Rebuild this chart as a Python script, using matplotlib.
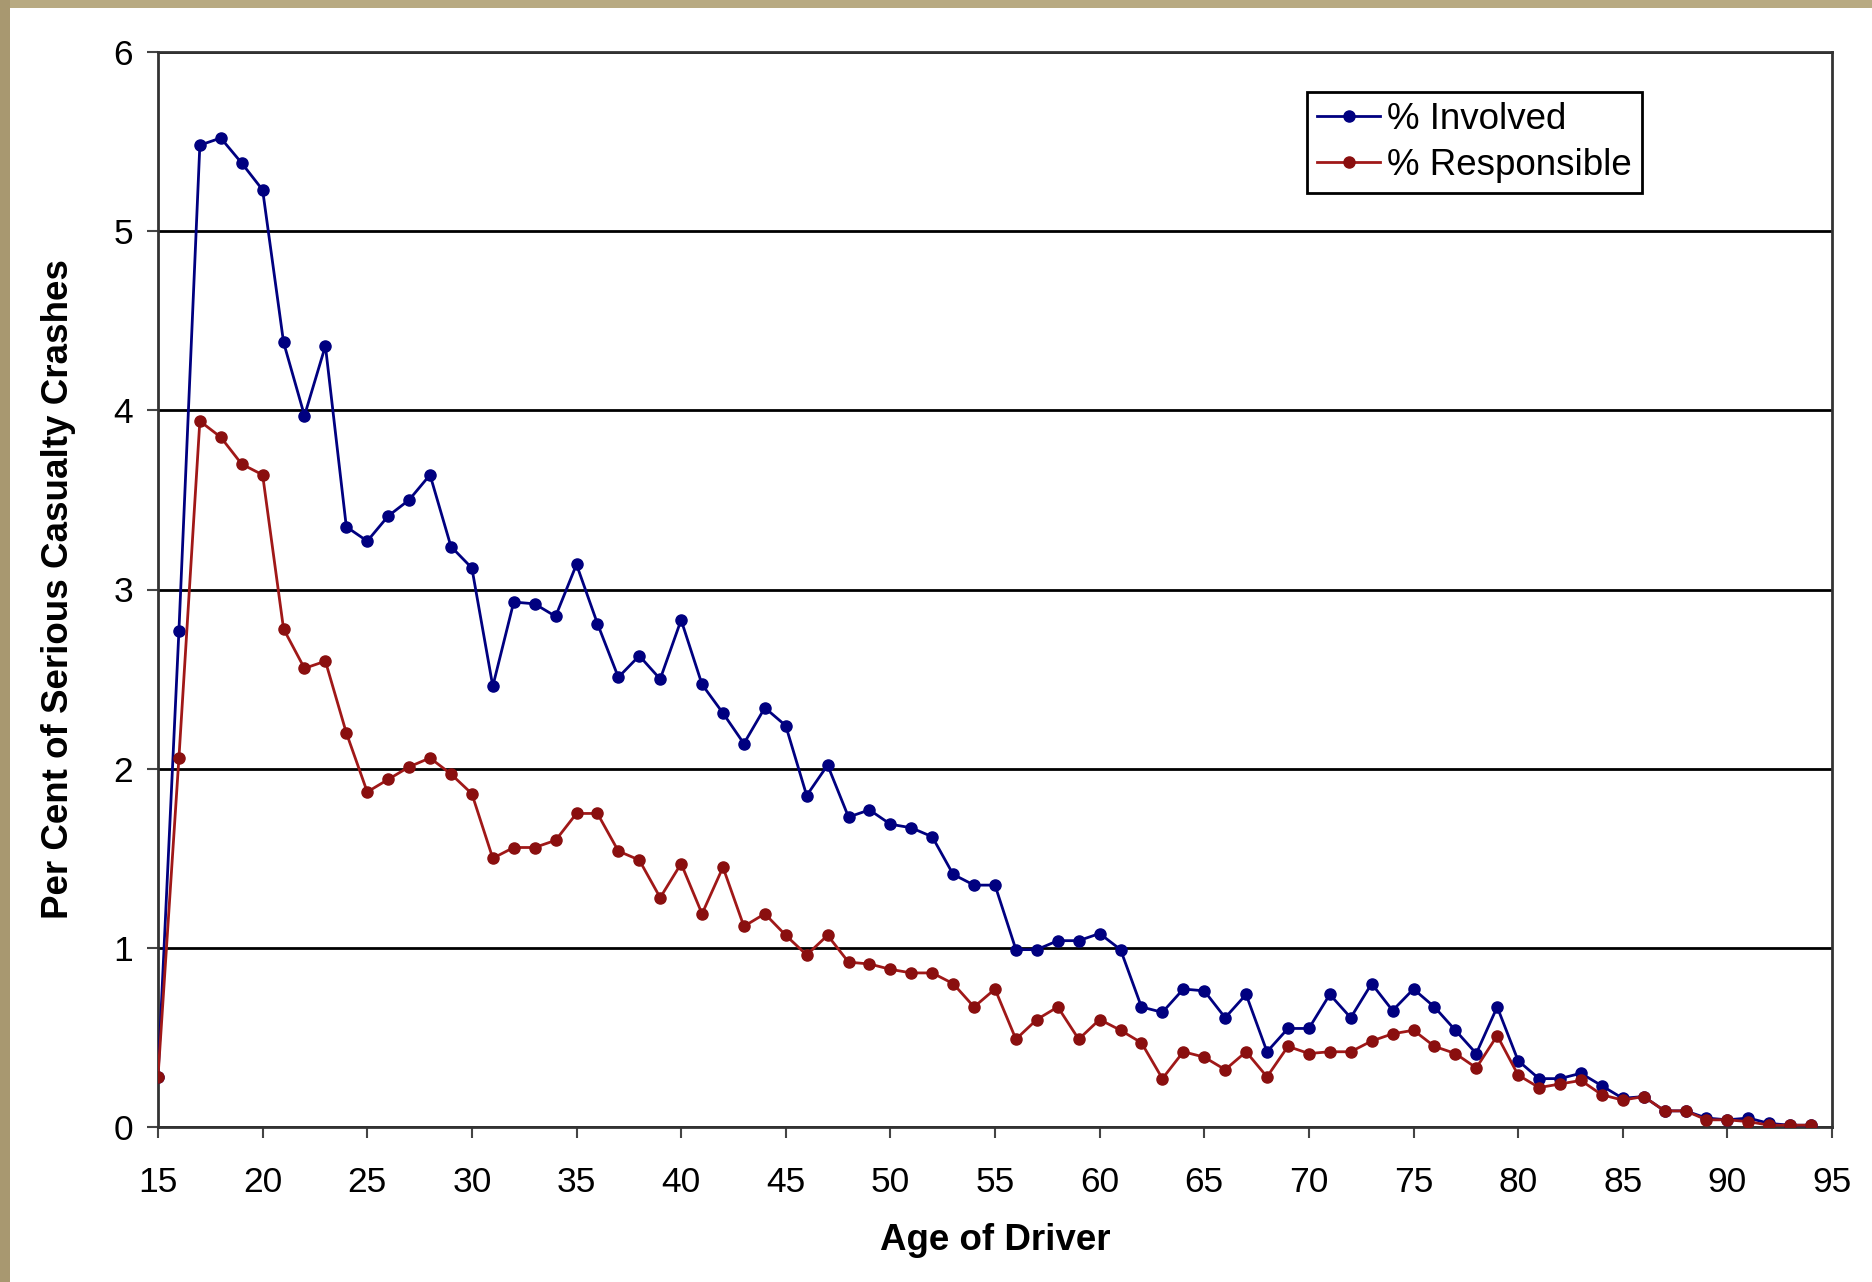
import numpy as np
import matplotlib.pyplot as plt
from matplotlib.patches import Rectangle

# ages 15..94
ages = list(range(15, 95))

# % involved (blue)
involved = [0.28, 2.77, 5.48, 5.52, 5.38, 5.23, 4.38, 3.97, 4.36, 3.35,
            3.27, 3.41, 3.50, 3.64, 3.24, 3.12, 2.46, 2.93, 2.92, 2.85,
            3.14, 2.81, 2.51, 2.63, 2.50, 2.83, 2.47, 2.31, 2.14, 2.34,
            2.24, 1.85, 2.02, 1.73, 1.77, 1.69, 1.67, 1.62, 1.41, 1.35,
            1.35, 0.99, 0.99, 1.04, 1.04, 1.08, 0.99, 0.67, 0.64, 0.77,
            0.76, 0.61, 0.74, 0.42, 0.55, 0.55, 0.74, 0.61, 0.80, 0.65,
            0.77, 0.67, 0.54, 0.41, 0.67, 0.37, 0.27, 0.27, 0.30, 0.23,
            0.16, 0.17, 0.09, 0.09, 0.05, 0.04, 0.05, 0.02, 0.01, 0.01]

# % responsible (red)
responsible = [0.28, 2.06, 3.94, 3.85, 3.70, 3.64, 2.78, 2.56, 2.60, 2.20,
               1.87, 1.94, 2.01, 2.06, 1.97, 1.86, 1.50, 1.56, 1.56, 1.60,
               1.75, 1.75, 1.54, 1.49, 1.28, 1.47, 1.19, 1.45, 1.12, 1.19,
               1.07, 0.96, 1.07, 0.92, 0.91, 0.88, 0.86, 0.86, 0.80, 0.67,
               0.77, 0.49, 0.60, 0.67, 0.49, 0.60, 0.54, 0.47, 0.27, 0.42,
               0.39, 0.32, 0.42, 0.28, 0.45, 0.41, 0.42, 0.42, 0.48, 0.52,
               0.54, 0.45, 0.41, 0.33, 0.51, 0.29, 0.22, 0.24, 0.26, 0.18,
               0.15, 0.17, 0.09, 0.09, 0.04, 0.04, 0.03, 0.01, 0.01, 0.01]

plt.rcParams['font.family'] = ['Liberation Sans', 'DejaVu Sans']

fig = plt.figure(figsize=(18.72, 12.82), dpi=100)
fig.patch.set_facecolor('white')
# tan frame strips (top and left)
fig.patches.append(Rectangle((0, 1 - 8 / 1282), 1, 8 / 1282, transform=fig.transFigure,
                             facecolor='#b8aa82', edgecolor='none', zorder=0))
fig.patches.append(Rectangle((0, 0), 10 / 1872, 1, transform=fig.transFigure,
                             facecolor='#a89870', edgecolor='none', zorder=0))

ax = fig.add_axes([158 / 1872, 1 - 1127 / 1282, (1832 - 158) / 1872, (1127 - 52) / 1282])

ax.plot(ages, involved, color='#000080', lw=2, marker='o', ms=8,
        label='% Involved', zorder=3)
ax.plot(ages, responsible, color='#a01818', lw=2, marker='o', ms=8,
        markerfacecolor='#8a0f0f', markeredgecolor='#8a0f0f',
        label='% Responsible', zorder=3)

ax.set_xlim(15, 95)
ax.set_ylim(0, 6)
ax.set_xticks(range(15, 96, 5))
ax.set_yticks(range(0, 7))
ax.yaxis.grid(True, color='black', lw=2)
ax.set_axisbelow(True)

for s in ax.spines.values():
    s.set_color('#333333')
    s.set_linewidth(2)

ax.tick_params(axis='both', direction='out', length=8, width=1.5,
               color='#444444', labelsize=25.5)
ax.tick_params(axis='x', pad=20)
ax.tick_params(axis='y', pad=10)

ax.set_xlabel('Age of Driver', fontsize=26.5, fontweight='bold', labelpad=17)
ax.set_ylabel('Per Cent of Serious Casualty Crashes', fontsize=26.5,
              fontweight='bold', labelpad=27)

leg = ax.legend(loc='upper left', bbox_to_anchor=((1307 - 158) / 1674, (1127 - 92) / 1075),
                fontsize=26.5, frameon=True, fancybox=False, framealpha=1,
                handlelength=1.7, handletextpad=0.2, borderpad=0.28,
                labelspacing=0.28, borderaxespad=0)
leg.get_frame().set_edgecolor('black')
leg.get_frame().set_linewidth(2)

fig.savefig('out.png', dpi=100, facecolor=fig.get_facecolor())
